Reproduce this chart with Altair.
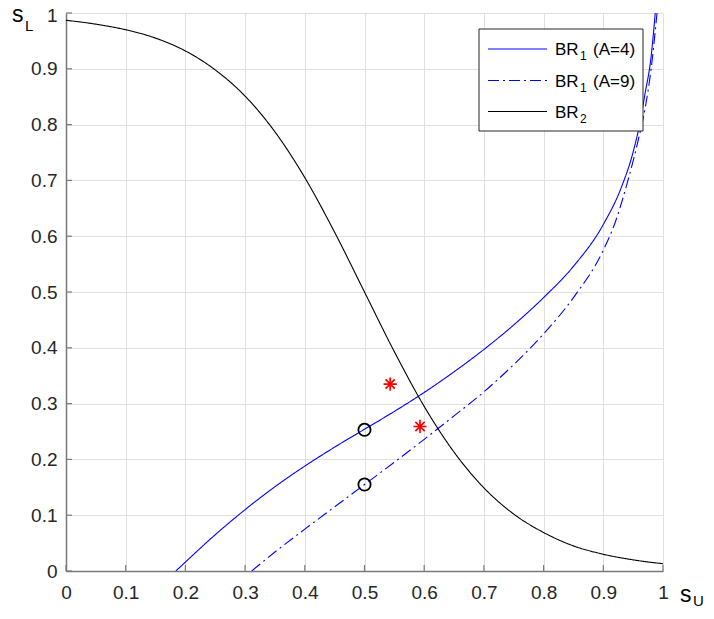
import altair as alt
import pandas as pd

W, H = 597, 558

# ---- data ----
br2_x = [0.0, 0.05, 0.1, 0.15, 0.2, 0.25, 0.3, 0.35, 0.4, 0.45, 0.5,
         0.55, 0.6, 0.65, 0.7, 0.75, 0.8, 0.85, 0.9, 0.95, 1.0]
br2_y = [0.987, 0.980, 0.970, 0.955, 0.932, 0.898, 0.851, 0.787, 0.705, 0.607, 0.500,
         0.393, 0.295, 0.213, 0.149, 0.102, 0.069, 0.045, 0.030, 0.020, 0.013]

a4_x = [0.184, 0.2, 0.25, 0.3, 0.35, 0.4, 0.45, 0.5, 0.55, 0.6, 0.65, 0.7, 0.75,
        0.8, 0.85, 0.9, 0.93, 0.95, 0.96, 0.97, 0.98, 0.987]
a4_y = [0.0, 0.016, 0.065, 0.110, 0.151, 0.188, 0.222, 0.254, 0.286, 0.320, 0.357,
        0.397, 0.441, 0.490, 0.546, 0.621, 0.687, 0.751, 0.796, 0.856, 0.921, 1.0]

a9_x = [0.311, 0.35, 0.4, 0.45, 0.5, 0.55, 0.6, 0.65, 0.7, 0.75, 0.8, 0.85, 0.9,
        0.92, 0.94, 0.96, 0.97, 0.98, 0.99]
a9_y = [0.0, 0.034, 0.075, 0.115, 0.155, 0.195, 0.236, 0.278, 0.321, 0.370, 0.425,
        0.490, 0.575, 0.625, 0.695, 0.779, 0.829, 0.899, 1.0]

circle_x = [0.5, 0.5]
circle_y = [0.253, 0.155]
star_x = [0.543, 0.593]
star_y = [0.335, 0.259]

tick_values = [0, 0.1, 0.2, 0.3, 0.4, 0.5, 0.6, 0.7, 0.8, 0.9, 1]
series_names = ["BR1 (A=4)", "BR1 (A=9)", "BR2"]
legend_main = ["BR", "BR", "BR"]
legend_sub = ["1", "1", "2"]
legend_rest = ["(A=4)", "(A=9)", ""]

rows = []
for xs_, ys_, name in [(a4_x, a4_y, series_names[0]),
                       (a9_x, a9_y, series_names[1]),
                       (br2_x, br2_y, series_names[2])]:
    for xv, yv in zip(xs_, ys_):
        rows.append({"x": xv, "y": yv, "series": name})
df = pd.DataFrame(rows)
df_circ = pd.DataFrame({"x": circle_x, "y": circle_y})
df_star = pd.DataFrame({"x": star_x, "y": star_y})
df_ticks = pd.DataFrame({"t": tick_values})
one = pd.DataFrame({"a": [0]})

FONT = "Liberation Sans"
AX = "#7a7a7a"
LAB = "#262626"

xs = alt.Scale(domain=[0, 1], nice=False, zero=False)
ys = alt.Scale(domain=[0, 1], nice=False, zero=False)

x_axis = alt.Axis(values=tick_values, format="~g", grid=True, gridColor="#e0e0e0",
                  gridWidth=1, domainColor=AX, domainWidth=1.5, tickSize=0,
                  labelFont=FONT, labelFontSize=19, labelColor=LAB, labelPadding=12,
                  labelFlush=False, labelOverlap=False, title=None)
y_axis = alt.Axis(values=tick_values, format="~g", grid=True, gridColor="#e0e0e0",
                  gridWidth=1, domainColor=AX, domainWidth=1.5, tickSize=0,
                  labelFont=FONT, labelFontSize=19, labelColor=LAB, labelPadding=9,
                  labelOffset={"condition": {"test": "datum.value == 1", "value": 2}, "value": 0},
                  labelFlush=False, labelOverlap=False, title=None)

X = lambda f: alt.X(f, scale=xs, axis=x_axis)
Y = lambda f: alt.Y(f, scale=ys, axis=y_axis)

lines = alt.Chart(df).mark_line(strokeWidth=1.1, interpolate="monotone", clip=True).encode(
    x=X("x:Q"),
    y=Y("y:Q"),
    color=alt.Color("series:N", scale=alt.Scale(domain=series_names,
                    range=["#0000ff", "#0000ff", "#000000"]), legend=None),
    strokeDash=alt.StrokeDash("series:N", scale=alt.Scale(domain=series_names,
                    range=[[1, 0], [11, 4, 2, 4], [1, 0]]), legend=None),
    detail="series:N",
)

xticks = alt.Chart(df_ticks).mark_rule(color=AX, strokeWidth=1.2).encode(
    x=X("t:Q"), y=alt.value(H - 6), y2=alt.value(H))
yticks = alt.Chart(df_ticks).mark_rule(color=AX, strokeWidth=1.2).encode(
    y=Y("t:Q"), x=alt.value(0), x2=alt.value(6))

circles = alt.Chart(df_circ).mark_point(shape="circle", size=150, filled=False,
                                         color="black", strokeWidth=1.8, opacity=1).encode(
    x=X("x:Q"), y=Y("y:Q"))

star_path = "M0,-1L0,1M-1,0L1,0M-0.7,-0.7L0.7,0.7M-0.7,0.7L0.7,-0.7"
stars = alt.Chart(df_star).mark_point(shape=star_path, size=175, filled=False,
                                       color="#ff0000", strokeWidth=1.7, opacity=1).encode(
    x=X("x:Q"), y=Y("y:Q"))


def txt(s, x, y, size, baseline="alphabetic"):
    return alt.Chart(one).mark_text(align="left", baseline=baseline, font=FONT,
                                    fontSize=size, color="black").encode(
        x=alt.value(x), y=alt.value(y), text=alt.value(s))


# ---- legend box (page coords minus plot origin at (66, 13)) ----
LX0, LX1, LY0, LY1 = 413, 577, 16, 118
row_y = [36, 67.5, 98.5]
leg_box = alt.Chart(one).mark_rect(fill="white", stroke="#262626", strokeWidth=1).encode(
    x=alt.value(LX0), x2=alt.value(LX1), y=alt.value(LY0), y2=alt.value(LY1))
leg_layers = [leg_box]
leg_colors = ["#0000ff", "#0000ff", "#000000"]
leg_dash = [[1, 0], [11, 4, 2, 4], [1, 0]]
TX = 489
for i in range(3):
    leg_layers.append(alt.Chart(one).mark_rule(color=leg_colors[i], strokeWidth=1.1,
                                               strokeDash=leg_dash[i]).encode(
        x=alt.value(422), x2=alt.value(481), y=alt.value(row_y[i])))
    base_y = row_y[i] + 6
    leg_layers.append(txt(legend_main[i], TX, base_y, 17))
    leg_layers.append(txt(legend_sub[i], TX + 25, base_y + 5, 12))
    if legend_rest[i]:
        leg_layers.append(txt(legend_rest[i], TX + 38, base_y, 17))

# ---- axis titles ----
titles = [txt("s", -54, 9, 23), txt("L", -41, 18, 15),
          txt("s", 614, 589, 23), txt("U", 627, 593, 15)]

chart = alt.layer(lines, xticks, yticks, circles, stars, *leg_layers, *titles).properties(
    width=W, height=H,
    autosize=alt.AutoSizeParams(type="none"),
    padding={"left": 58, "top": 5, "right": 43, "bottom": 37},
).configure_view(stroke=None)

chart.save("out.html", embed_options={"renderer": "svg", "actions": False})
